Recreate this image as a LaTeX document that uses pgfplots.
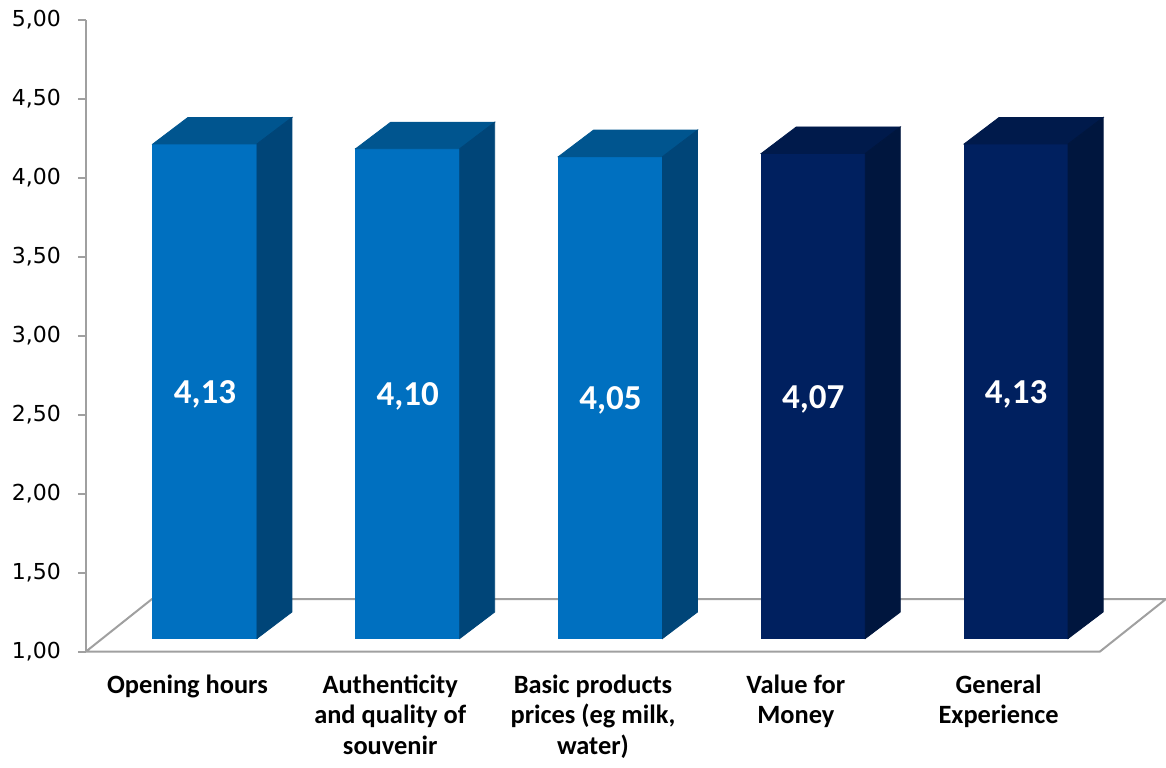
\documentclass[border=0pt]{standalone}
\usepackage{pgfplots}
\pgfplotsset{compat=1.18}
\usepackage{fontspec}
\setmainfont{Carlito}
\newfontfamily\tickfont{DejaVu Sans}

\definecolor{blueF}{HTML}{0070C0}
\definecolor{blueT}{HTML}{00558F}
\definecolor{blueS}{HTML}{004578}
\definecolor{navyF}{HTML}{00205F}
\definecolor{navyT}{HTML}{001A4B}
\definecolor{navyS}{HTML}{00163E}
\definecolor{axisgray}{HTML}{A0A0A0}

\pgfplotstableread{
x v
1 4.13
2 4.10
3 4.05
}\lighttbl
\pgfplotstableread{
x v
4 4.07
5 4.13
}\darktbl

% 3d box drawn at each point, origin = (x,v) on the front plane of the floor
% bar half width 26pt, front offset (8.75pt,6.5pt), depth (17.5pt,13.25pt), 79pt per unit
\pgfplotsset{
  box3d/.style n args={3}{
    scatter, only marks, mark=text, text mark={},
    visualization depends on={rawy \as \val},
    scatter/@pre marker code/.code={
      \pgfkeys{/pgf/fpu=true,/pgf/fpu/output format=fixed}%
      \pgfmathsetmacro\hgt{(\val-1)*79}%
      \pgfmathsetmacro\vv{\val}%
      \pgfkeys{/pgf/fpu=false}%
      \fill[#1] (-17.25pt,6.5pt) rectangle (34.75pt,{6.5pt-\hgt pt});
      \fill[#2] (-17.25pt,6.5pt) -- (34.75pt,6.5pt) -- (52.25pt,19.75pt) -- (0.25pt,19.75pt) -- cycle;
      \fill[#3] (34.75pt,6.5pt) -- (52.25pt,19.75pt) -- (52.25pt,{19.75pt-\hgt pt}) -- (34.75pt,{6.5pt-\hgt pt}) -- cycle;
      \node[text=white, font=\fontsize{17.5}{20}\bfseries\selectfont] at (8.75pt,{5pt-0.5*\hgt pt})
        {\pgfmathprintnumber[fixed,fixed zerofill,precision=2,use comma,assume math mode=true]{\vv}};
      \scope
    },
    scatter/@post marker code/.code={\endscope},
  },
}

\begin{document}
\begin{tikzpicture}
\path[use as bounding box] (0,0) rectangle (583pt,383.5pt);
\begin{axis}[
  at={(43pt,57.75pt)}, anchor=south west,
  scale only axis, width=507pt, height=316pt,
  xmin=0.5, xmax=5.5, ymin=1, ymax=5,
  clip=false,
  separate axis lines, axis lines*=left,
  x axis line style={draw=none},
  y axis line style={axisgray, line width=1.2pt},
  tick align=outside, major tick length=4pt,
  major y tick style={axisgray, line width=1pt},
  major x tick style={draw=none},
  ytick={1,1.5,...,5},
  xtick={1,...,5},
  xticklabels={{Opening hours},{Authenticity\\and quality of\\souvenir},{Basic products\\prices (eg milk,\\water)},{Value for\\Money},{General\\Experience}},
  xticklabel style={font=\fontsize{13.2}{15.3}\bfseries\selectfont, align=center, anchor=north, yshift=-4pt},
  yticklabel style={font=\tickfont\fontsize{11}{12}\selectfont, xshift=-5pt,
    /pgf/number format/fixed, /pgf/number format/fixed zerofill,
    /pgf/number format/precision=2, /pgf/number format/use comma,
    /pgf/number format/assume math mode=true},
]
\draw[axisgray, line width=1pt, fill=white] (axis cs:0.5,1)
  -- ([shift={(33pt,26.25pt)}]axis cs:0.5,1)
  -- ([shift={(33pt,26.25pt)}]axis cs:5.5,1)
  -- (axis cs:5.5,1) -- cycle;
\addplot[box3d={blueF}{blueT}{blueS}] table[x=x, y=v] {\lighttbl};
\addplot[box3d={navyF}{navyT}{navyS}] table[x=x, y=v] {\darktbl};
\end{axis}
\end{tikzpicture}
\end{document}
